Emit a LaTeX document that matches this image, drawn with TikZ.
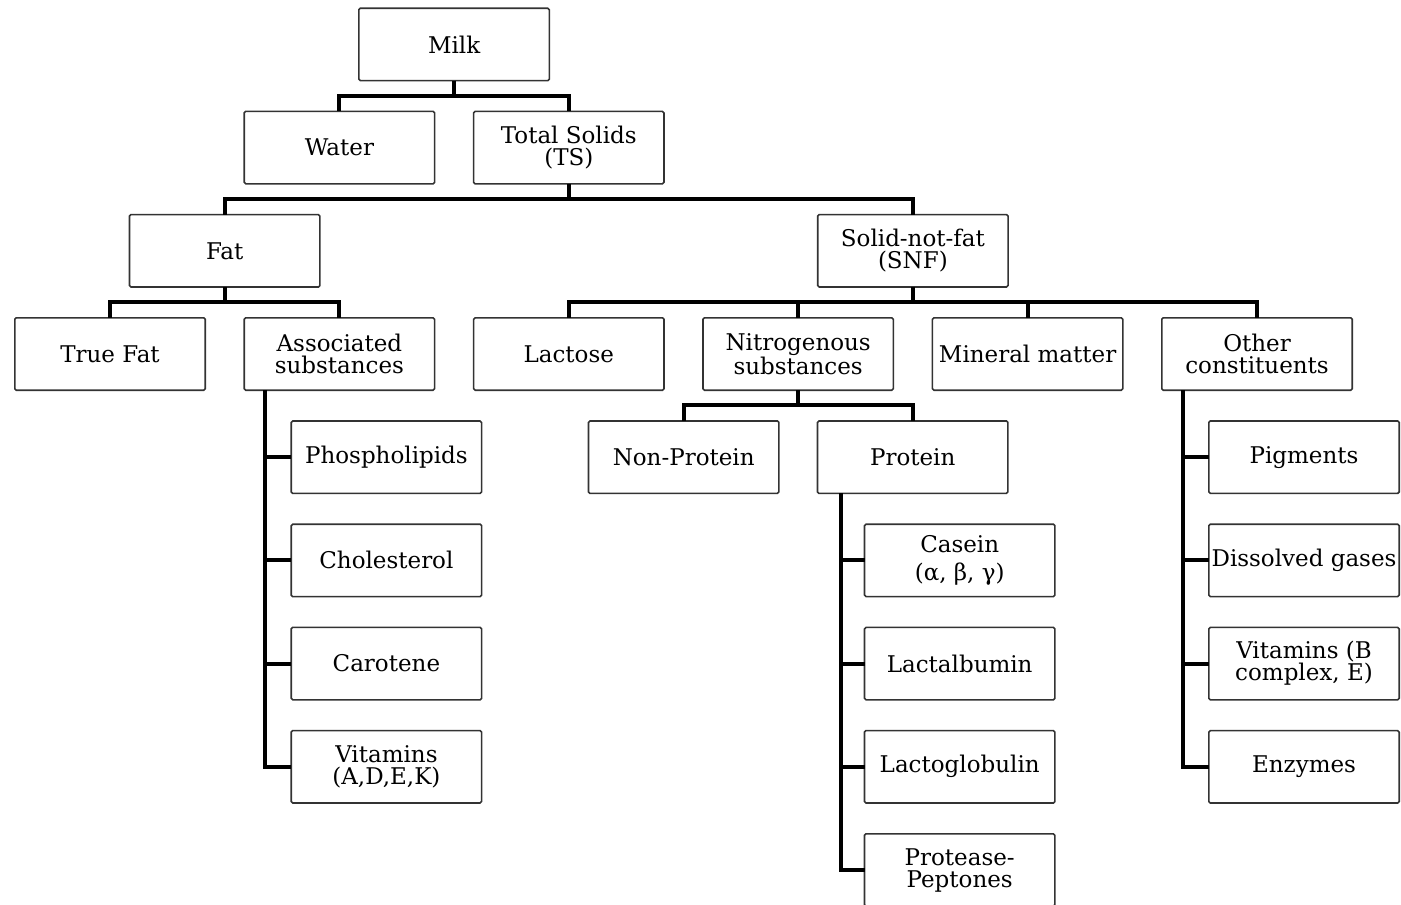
\documentclass[tikz,border=0pt]{standalone}
\usepackage{fontspec}
\setmainfont{DejaVu Serif}
\usetikzlibrary{positioning,calc}
\definecolor{edge}{HTML}{333333}

\begin{document}
\begin{tikzpicture}[x=1pt, y=1pt, font=\fontsize{23}{22}\selectfont,
  box/.style={draw=edge, line width=1.6pt, rounded corners=1.5pt, minimum width=190.4pt,
    minimum height=72.4pt, inner sep=1pt, outer sep=0pt, align=center},
  link/.style={line width=4pt}]
  \useasboundingbox (0,0) rectangle (1401,-905);
  \clip (0,0) rectangle (1401,-905);

  % main groups
  \node[box] (tf) at (110,-354) {True Fat};
  \node[box, right=39pt of tf] (as) {Associated\\substances};
  \node[box, right=39pt of as] (la) {Lactose};
  \node[box, right=39pt of la] (ns) {Nitrogenous\\substances};
  \node[box, right=39pt of ns] (mm) {Mineral matter};
  \node[box, right=39pt of mm] (oc) {Other\\constituents};

  % upper levels
  \node[box, above=134pt of as] (wa) {Water};
  \node[box, above=134pt of la] (ts) {Total Solids\\(TS)};
  \coordinate (milkbase) at ($(wa.north)!0.5!(ts.north)$);
  \node[box, above=30.8pt of milkbase] (milk) {Milk};
  \coordinate (fatbase) at ($(tf.north)!0.5!(as.north)$);
  \node[box, above=30.8pt of fatbase] (fat) {Fat};
  \coordinate (snfbase) at ($(la.north)!0.5!(oc.north)$);
  \node[box, above=30.8pt of snfbase] (snf) {Solid-not-fat\\(SNF)};

  % associated substances
  \node[box, below=30.8pt of as, xshift=47pt] (ph) {Phospholipids};
  \node[box, below=30.8pt of ph] (ch) {Cholesterol};
  \node[box, below=30.8pt of ch] (ca) {Carotene};
  \node[box, below=30.8pt of ca] (vk) {Vitamins\\(A,D,E,K)};

  % nitrogenous substances
  \node[box, below=30.8pt of ns, xshift=-114.5pt] (np) {Non-Protein};
  \node[box, below=30.8pt of ns, xshift=114.5pt] (pr) {Protein};
  \node[box, below=30.8pt of pr, xshift=47pt] (cs) {Casein\\[6pt](α, β, γ)};
  \node[box, below=30.8pt of cs] (lb) {Lactalbumin};
  \node[box, below=30.8pt of lb] (lg) {Lactoglobulin};
  \node[box, below=30.8pt of lg] (pp) {Protease-\\Peptones};

  % other constituents
  \node[box, below=30.8pt of oc, xshift=47pt] (pg) {Pigments};
  \node[box, below=30.8pt of pg] (dg) {Dissolved gases};
  \node[box, below=30.8pt of dg] (vb) {Vitamins (B\\complex, E)};
  \node[box, below=30.8pt of vb] (en) {Enzymes};

  % tree links
  \foreach \c in {wa,ts} \draw[link] (milk.south) -- ++(0,-15) -| (\c.north);
  \foreach \c in {fat,snf} \draw[link] (ts.south) -- ++(0,-15) -| (\c.north);
  \foreach \c in {tf,as} \draw[link] (fat.south) -- ++(0,-14.5) -| (\c.north);
  \foreach \c in {la,ns,mm,oc} \draw[link] (snf.south) -- ++(0,-14.5) -| (\c.north);
  \foreach \c in {np,pr} \draw[link] (ns.south) -- ++(0,-14.5) -| (\c.north);

  % list spines
  \coordinate (asx) at ($(as.south west)+(21,0)$);
  \draw[link] (asx) |- (vk.west);
  \foreach \c in {ph,ch,ca} \draw[link] (asx |- \c.west) -- (\c.west);
  \coordinate (prx) at ($(pr.south west)+(23,0)$);
  \draw[link] (prx) |- (pp.west);
  \foreach \c in {cs,lb,lg} \draw[link] (prx |- \c.west) -- (\c.west);
  \coordinate (ocx) at ($(oc.south west)+(21,0)$);
  \draw[link] (ocx) |- (en.west);
  \foreach \c in {pg,dg,vb} \draw[link] (ocx |- \c.west) -- (\c.west);
\end{tikzpicture}
\end{document}
